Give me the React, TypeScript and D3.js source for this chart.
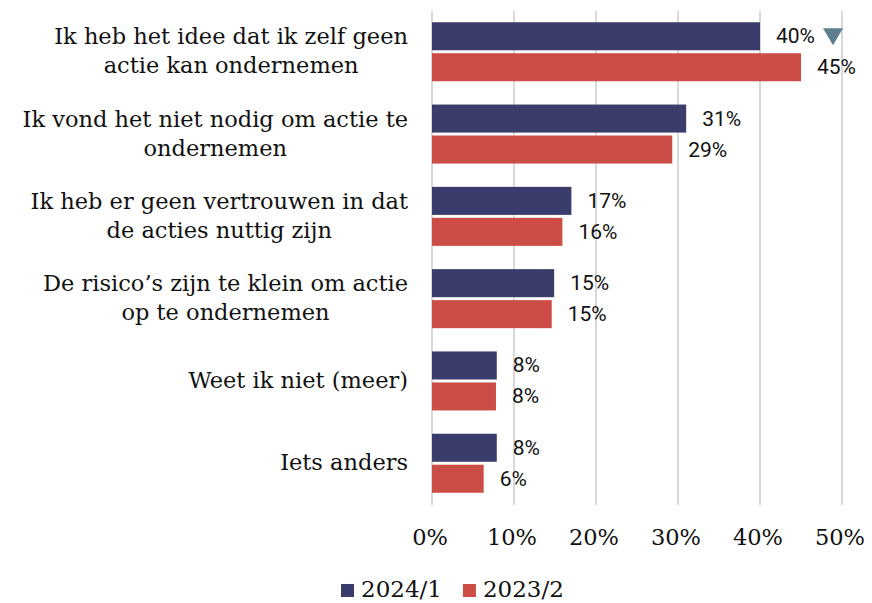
import React, { useEffect, useRef } from 'react'
import * as d3 from 'd3'

const categories = [
  'Ik heb het idee dat ik zelf geen\nactie kan ondernemen',
  'Ik vond het niet nodig om actie te\nondernemen',
  'Ik heb er geen vertrouwen in dat\nde acties nuttig zijn',
  'De risico’s zijn te klein om actie\nop te ondernemen',
  'Weet ik niet (meer)',
  'Iets anders',
]
const seriesNames = ['2024/1', '2023/2']
const values2024 = [40, 31, 17, 14.9, 7.9, 7.9]
const values2023 = [45, 29.3, 15.9, 14.6, 7.8, 6.3]
const labels2024 = ['40%', '31%', '17%', '15%', '8%', '8%']
const labels2023 = ['45%', '29%', '16%', '15%', '8%', '6%']
// significant change markers for 2024/1 (only first category went down)
const markers2024 = ['down', null, null, null, null, null]
const xTicks = [0, 10, 20, 30, 40, 50]

const COLORS = { '2024/1': '#3a3d6b', '2023/2': '#cb4d45' }
const SERIF = '"DejaVu Serif", serif'
const SANS = 'Roboto, sans-serif'

export default function App() {
  const svgRef = useRef<SVGSVGElement>(null)

  useEffect(() => {
    const svg = d3.select(svgRef.current)
    svg.selectAll('*').remove()

    const x = d3.scaleLinear().domain([0, 50]).range([432, 842])
    const y = d3.scaleBand<string>().domain(categories).range([10.6, 504.4]).paddingInner(0.283).paddingOuter(0.1415)
    const ySub = d3.scaleBand<string>().domain(seriesNames).range([0, y.bandwidth()]).paddingInner(0.095)

    const rows = categories.map((c, i) => ({
      cat: c,
      bars: [
        { s: '2024/1', v: values2024[i], label: labels2024[i], marker: markers2024[i] },
        { s: '2023/2', v: values2023[i], label: labels2023[i], marker: null },
      ],
    }))

    // grid
    svg.append('g')
      .selectAll('line')
      .data(xTicks)
      .enter()
      .append('line')
      .attr('x1', d => x(d)).attr('x2', d => x(d))
      .attr('y1', 11).attr('y2', 505)
      .attr('stroke', '#d9d9d9')
      .attr('stroke-width', 2)

    // tick labels
    svg.append('g')
      .selectAll('text')
      .data(xTicks)
      .enter()
      .append('text')
      .attr('x', d => x(d) - 2)
      .attr('y', 545)
      .attr('text-anchor', 'middle')
      .attr('font-family', SERIF)
      .attr('font-size', 22.5)
      .attr('fill', '#111')
      .text(d => d + '%')

    const groups = svg.append('g')
      .selectAll('g')
      .data(rows)
      .enter()
      .append('g')
      .attr('transform', d => `translate(0,${y(d.cat)})`)

    const bar = groups.selectAll('g.bar')
      .data(d => d.bars)
      .enter()
      .append('g')
      .attr('class', 'bar')

    bar.append('rect')
      .attr('x', x(0))
      .attr('y', d => ySub(d.s)!)
      .attr('width', d => x(d.v) - x(0))
      .attr('height', ySub.bandwidth())
      .attr('fill', d => COLORS[d.s])

    bar.append('text')
      .attr('x', d => x(d.v) + 16)
      .attr('y', d => ySub(d.s)! + ySub.bandwidth() / 2 + 7)
      .attr('font-family', SANS)
      .attr('font-size', 21)
      .attr('fill', '#111')
      .text(d => d.label)
      .each(function (d) {
        if (d.marker !== 'down') return
        const end = x(d.v) + 16 + (this as SVGTextElement).getComputedTextLength()
        const cy = ySub(d.s)! + ySub.bandwidth() / 2
        const cx = end + 18
        d3.select((this as SVGTextElement).parentNode as SVGGElement)
          .append('path')
          .attr('d', `M${cx - 10},${cy - 8} L${cx + 10},${cy - 8} L${cx},${cy + 9} Z`)
          .attr('fill', '#5f7f91')
      })

    // category labels: lines centered within a right-aligned block
    groups.each(function (d) {
      const g = d3.select(this)
      const lines = d.cat.split('\n')
      const mid = y.bandwidth() / 2
      const lh = 29
      const texts = lines.map((ln, k) =>
        g.append('text')
          .attr('y', mid + 7 + (k - (lines.length - 1) / 2) * lh)
          .attr('text-anchor', 'middle')
          .attr('font-family', SERIF)
          .attr('font-size', 22.5)
          .attr('fill', '#111')
          .text(ln)
      )
      const w = d3.max(texts, t => (t.node() as SVGTextElement).getComputedTextLength()) || 0
      texts.forEach(t => t.attr('x', 408 - w / 2))
    })

    // legend
    const legend = svg.append('g')
    let lx = 341
    seriesNames.forEach(s => {
      legend.append('rect')
        .attr('x', lx).attr('y', 584).attr('width', 13).attr('height', 13)
        .attr('fill', COLORS[s])
      const t = legend.append('text')
        .attr('x', lx + 20).attr('y', 597)
        .attr('font-family', SERIF)
        .attr('font-size', 23)
        .attr('fill', '#111')
        .text(s)
      lx += 20 + (t.node() as SVGTextElement).getComputedTextLength() + 21
    })
  }, [])

  return (
    <div style={{ position: 'fixed', left: 0, top: 0, width: 872, height: 603, background: '#fff' }}>
      <svg ref={svgRef} width={872} height={603} style={{ display: 'block' }} />
    </div>
  )
}
